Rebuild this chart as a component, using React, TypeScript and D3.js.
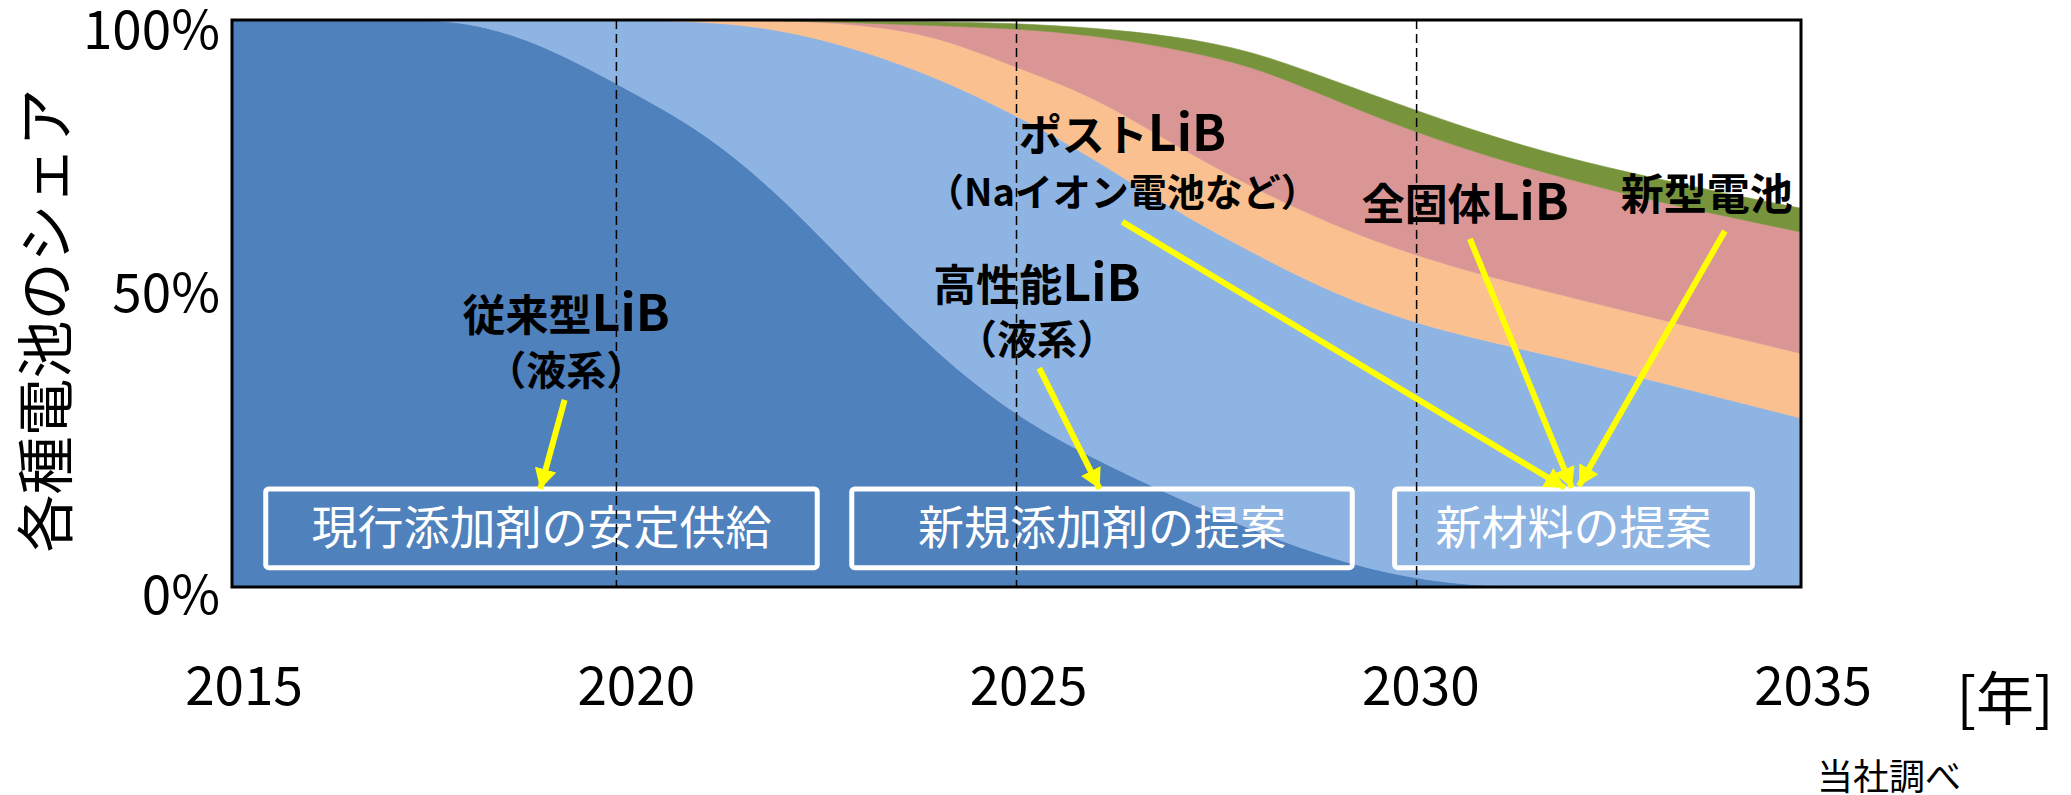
import * as d3 from 'd3';

// battery share by year (fraction of 100%)
const years = [2015, 2016, 2017, 2018, 2019, 2020, 2021, 2022, 2023, 2024, 2025,
  2026, 2027, 2028, 2029, 2030, 2031, 2032, 2033, 2034, 2035];
const conventionalLiB = [1, 1, 1, 1, 0.955, 0.88, 0.805, 0.69, 0.545, 0.41, 0.3,
  0.225, 0.16, 0.1, 0.05, 0.015, 0, 0, 0, 0, 0];
const highPerfLiB = [0, 0, 0, 0, 0.045, 0.12, 0.193, 0.294, 0.403, 0.488, 0.532,
  0.53, 0.505, 0.49, 0.47, 0.453, 0.433, 0.402, 0.368, 0.333, 0.298];
const postLiB = [0, 0, 0, 0, 0, 0, 0.002, 0.015, 0.045, 0.074, 0.084,
  0.11, 0.115, 0.115, 0.12, 0.12, 0.115, 0.111, 0.111, 0.112, 0.114];
const solidStateLiB = [0, 0, 0, 0, 0, 0, 0, 0, 0.002, 0.018, 0.069,
  0.108, 0.17, 0.215, 0.222, 0.218, 0.212, 0.207, 0.206, 0.21, 0.214];
const newBattery = [0, 0, 0, 0, 0, 0, 0, 0.001, 0.003, 0.007, 0.009,
  0.013, 0.022, 0.026, 0.033, 0.039, 0.037, 0.037, 0.04, 0.04, 0.042];

const seriesKeys = ['conv', 'high', 'post', 'solid', 'novel'];
const seriesColors = ['#4F81BD', '#8EB4E3', '#FAC090', '#D99694', '#77933C'];

const xTicks = [2015, 2020, 2025, 2030, 2035];
const yTicks = [0, 0.5, 1];
const yTickLabels = ['0%', '50%', '100%'];
const dividerYears = [2019.9, 2025, 2030.1];

const W = 2071;
const H = 795;
const FONT = "'Noto Sans CJK JP', 'Noto Sans', sans-serif";
const YELLOW = '#FFFF00';

const margin = { left: 232, top: 20, right: 270, bottom: 208 };

export default function App() {
  const x = d3.scaleLinear().domain([2015, 2035]).range([margin.left, W - margin.right]);
  const y = d3.scaleLinear().domain([0, 1]).range([H - margin.bottom, margin.top]);
  // tick labels sit a little off the gridline in the original
  const yLabel = d3.scaleLinear().domain([0, 0.5, 1]).range([614, 312, 49]);

  const table = years.map((yr, i) => ({
    year: yr,
    conv: conventionalLiB[i],
    high: highPerfLiB[i],
    post: postLiB[i],
    solid: solidStateLiB[i],
    novel: newBattery[i],
  }));
  const stacked = d3.stack<any>().keys(seriesKeys)(table);
  const area = d3
    .area<any>()
    .x(d => x(d.data.year))
    .y0(d => y(d[0]))
    .y1(d => y(d[1]))
    .curve(d3.curveBasis);

  const [x0, x1] = x.range();
  const [yb, yt] = y.range();

  // annotations in data space: [year, share]
  const arrows = [
    [[2019.24, 0.33], [2018.93, 0.173]],
    [[2025.29, 0.386], [2026.06, 0.173]],
    [[2026.35, 0.644], [2031.99, 0.175]],
    [[2030.78, 0.614], [2032.08, 0.175]],
    [[2034.03, 0.628], [2032.17, 0.178]],
  ];
  const boxes = [
    { from: 2015.43, to: 2022.46, text: '現行添加剤の安定供給' },
    { from: 2022.9, to: 2029.28, text: '新規添加剤の提案' },
    { from: 2029.82, to: 2034.38, text: '新材料の提案' },
  ];

  const lib = (prefix: string, cx: number, base: number) => (
    <text x={cx} y={base} textAnchor="middle" fontWeight={700} fill="#000">
      <tspan fontSize={43}>{prefix}</tspan>
      <tspan fontSize={50}>LiB</tspan>
    </text>
  );

  return (
    <svg
      width={W}
      height={H}
      viewBox={`0 0 ${W} ${H}`}
      style={{ position: 'absolute', left: 0, top: 0, display: 'block', background: '#fff' }}
      fontFamily={FONT}
    >
      <defs>
        <marker
          id="head"
          viewBox="0 0 20 22"
          refX={20}
          refY={11}
          markerWidth={20}
          markerHeight={22}
          markerUnits="userSpaceOnUse"
          orient="auto"
        >
          <path d="M0,0 L20,11 L0,22 z" fill={YELLOW} />
        </marker>
        <clipPath id="plot">
          <rect x={x0} y={yt} width={x1 - x0} height={yb - yt} />
        </clipPath>
      </defs>

      <g clipPath="url(#plot)">
        {stacked.map((s, i) => (
          <path
            key={seriesKeys[i]}
            d={area(s) || ''}
            fill={seriesColors[i]}
            stroke={seriesColors[i]}
            strokeWidth={0.6}
          />
        ))}
      </g>

      <rect x={x0} y={yt} width={x1 - x0} height={yb - yt} fill="none" stroke="#000" strokeWidth={3} />

      {/* y axis */}
      {yTicks.map((v, i) => (
        <text key={v} x={220} y={yLabel(v)} textAnchor="end" fontSize={53} fill="#000">
          {yTickLabels[i]}
        </text>
      ))}
      <text
        transform={`translate(42,${(yb + yt) / 2 + 17}) rotate(-90)`}
        textAnchor="middle"
        dominantBaseline="central"
        fontSize={58}
        fill="#000"
      >
        各種電池のシェア
      </text>

      {/* x axis */}
      {xTicks.map(t => (
        <text key={t} x={x(t) + 12} y={705} textAnchor="middle" fontSize={53} fill="#000">
          {t}
        </text>
      ))}
      <text x={2005} y={720} textAnchor="middle" fontSize={58} fill="#000">[年]</text>
      <text x={1889} y={790} textAnchor="middle" fontSize={36} fill="#000">当社調べ</text>

      {/* proposal boxes */}
      {boxes.map(b => (
        <g key={b.text}>
          <rect
            x={x(b.from)}
            y={y(0.173)}
            width={x(b.to) - x(b.from)}
            height={y(0.034) - y(0.173)}
            rx={3}
            fill="none"
            stroke="#fff"
            strokeWidth={5}
          />
          <text x={(x(b.from) + x(b.to)) / 2} y={y(0.076)} textAnchor="middle" fontSize={46} fill="#fff">
            {b.text}
          </text>
        </g>
      ))}

      {/* series labels */}
      {lib('従来型', x(2019.26), y(0.4515))}
      <text x={x(2019.26)} y={y(0.357)} textAnchor="middle" fontSize={40} fontWeight={700}>（液系）</text>

      {lib('高性能', x(2025.26), y(0.5044))}
      <text x={x(2025.26)} y={y(0.411)} textAnchor="middle" fontSize={40} fontWeight={700}>（液系）</text>

      <text x={x(2026.35)} y={y(0.769)} textAnchor="middle" fontWeight={700}>
        <tspan fontSize={43}>ポスト</tspan>
        <tspan fontSize={50}>LiB</tspan>
      </text>
      <text x={x(2026.35)} y={y(0.672)} textAnchor="middle" fontSize={38} fontWeight={700}>
        （Naイオン電池など）
      </text>

      {lib('全固体', x(2030.72), y(0.647))}
      <text x={x(2033.8)} y={y(0.665)} textAnchor="middle" fontSize={43} fontWeight={700}>新型電池</text>

      {/* period dividers */}
      {dividerYears.map(d => (
        <line
          key={d}
          x1={x(d)}
          x2={x(d)}
          y1={yt}
          y2={yb}
          stroke="#000"
          strokeWidth={1.5}
          strokeDasharray="9,5"
        />
      ))}

      {arrows.map((a, i) => (
        <line
          key={i}
          x1={x(a[0][0])}
          y1={y(a[0][1])}
          x2={x(a[1][0])}
          y2={y(a[1][1])}
          stroke={YELLOW}
          strokeWidth={6}
          markerEnd="url(#head)"
        />
      ))}
    </svg>
  );
}
